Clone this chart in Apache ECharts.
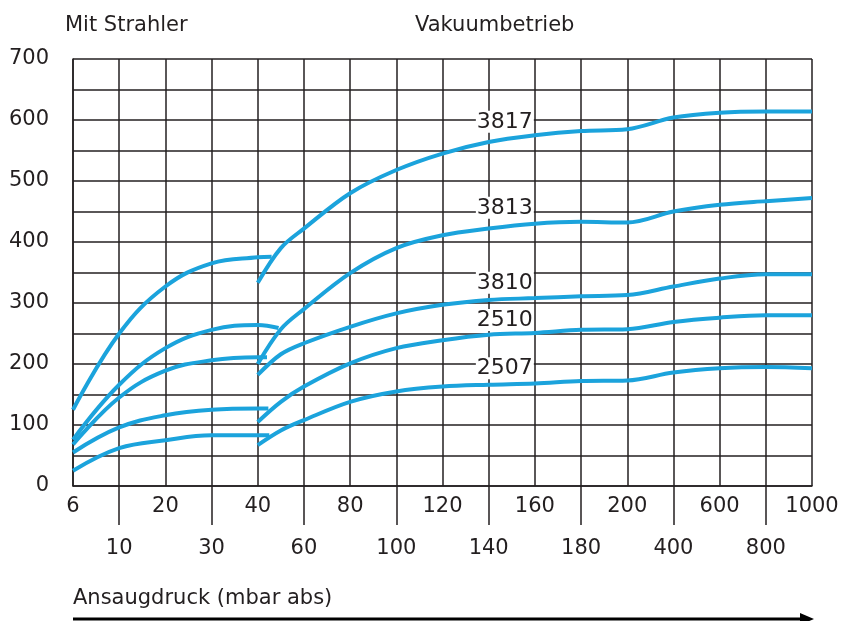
<!DOCTYPE html>
<html>
<head>
<meta charset="utf-8">
<script src="https://cdn.jsdelivr.net/npm/echarts@6/dist/echarts.min.js"></script>
<style>html,body{margin:0;padding:0;background:#fff}#c{width:842px;height:621px}</style>
</head>
<body>
<div id="c"></div>
<script>
// ---- data ----
const tickPressures = [6,10,20,30,40,60,80,100,120,140,160,180,200,400,600,800,1000];
const tickLabels = ['6','10','20','30','40','60','80','100','120','140','160','180','200','400','600','800','1000'];
const yTicks = [0,100,200,300,400,500,600,700];
const seriesNames = ['3817','3813','3810','2510','2507'];

// "Mit Strahler" segments: [pressure mbar, value]
const strahler3817 = [[6,125],[10,250],[20,327],[30,365],[40,375],[46,376]];
const strahler3813 = [[6,76],[10,166],[20,226],[30,256],[40,264],[49,259]];
const strahler3810 = [[6,68],[10,145],[20,189],[30,206],[40,211],[44,211]];
const strahler2510 = [[6,55],[10,96],[20,116],[30,125],[40,127],[44.6,127]];
const strahler2507 = [[6,25],[10,62],[20,75],[30,83],[40,83],[45,83]];

// "Vakuumbetrieb" segments
const vakuum3817 = [[40,333],[50,390],[60,422],[80,480],[100,518],[120,545],[140,564],[160,575],[180,582],[200,585],[400,604],[600,612],[800,614],[1000,614]];
const vakuum3813 = [[40,200],[50,257],[60,290],[80,349],[100,390],[120,411],[140,422],[160,430],[180,433],[200,432],[400,450],[600,461],[800,467],[1000,472]];
const vakuum3810 = [[40,182],[50,216],[60,234],[80,261],[100,283],[120,297],[140,305],[160,308],[180,311],[200,313],[400,327],[600,340],[800,347],[1000,347]];
const vakuum2510 = [[40,105],[50,138],[60,163],[80,201],[100,226],[120,239],[140,248],[160,251],[180,256],[200,257],[400,269],[600,276],[800,280],[1000,280]];
const vakuum2507 = [[40,67],[50,91],[60,108],[80,138],[100,155],[120,163],[140,166],[160,168],[180,172],[200,173],[400,186],[600,193],[800,195],[1000,193]];

// curve label anchors (pressure, value)
const labelPressure = 147;
const labelValues = [597,456,333,272,193];

// ---- helpers ----
function toIdx(p){
  for(let i=0;i<tickPressures.length-1;i++){
    if(p<=tickPressures[i+1]) return i+(p-tickPressures[i])/(tickPressures[i+1]-tickPressures[i]);
  }
  return tickPressures.length-1;
}
const conv = arr => arr.map(d=>[toIdx(d[0]),d[1]]);

const FONT = 'DejaVu Sans';
const TXT = '#231f20';
const LINE = '#1ba3dc';
const GRIDC = '#231f20';

const strahler = [strahler3817,strahler3813,strahler3810,strahler2510,strahler2507];
const vakuum = [vakuum3817,vakuum3813,vakuum3810,vakuum2510,vakuum2507];

const series = [];
seriesNames.forEach((n,i)=>{
  series.push({name:n+' Strahler',type:'line',xAxisIndex:0,yAxisIndex:0,data:conv(strahler[i]),
    smooth:0.4,symbol:'none',lineStyle:{color:LINE,width:4},z:3});
  series.push({name:n,type:'line',xAxisIndex:0,yAxisIndex:0,data:conv(vakuum[i]),
    smooth:0.35,symbol:'none',lineStyle:{color:LINE,width:4},z:3,
    markPoint:{symbol:'circle',symbolSize:0,silent:true,
      data:[{coord:[toIdx(labelPressure),labelValues[i]],value:n}],
      label:{show:true,position:'inside',formatter:n,color:TXT,fontFamily:FONT,fontSize:22,
        backgroundColor:'#fff',padding:[0,1]}}});
});

const chart = echarts.init(document.getElementById('c'),null,{renderer:'canvas'});
chart.setOption({
  animation:false,
  backgroundColor:'#fff',
  title:[
    {text:'Mit Strahler',left:60,top:10,textStyle:{fontFamily:FONT,fontSize:21,fontWeight:'normal',color:TXT}},
    {text:'Vakuumbetrieb',left:410,top:10,textStyle:{fontFamily:FONT,fontSize:21,fontWeight:'normal',color:TXT}}
  ],
  grid:{left:73,right:30,top:59,bottom:135,containLabel:false},
  xAxis:[
    {type:'value',min:0,max:tickPressures.length-1,interval:1,
     axisLine:{show:true,onZero:false,lineStyle:{color:GRIDC,width:1.5}},
     axisTick:{show:false},axisLabel:{show:false},
     splitLine:{show:true,lineStyle:{color:GRIDC,width:1.5}}},
    {type:'category',data:tickLabels,boundaryGap:false,position:'bottom',offset:0,
     axisLine:{show:false},
     axisTick:{show:true,alignWithLabel:true,length:39,interval:(i)=>i%2===1,lineStyle:{color:GRIDC,width:1.5}},
     axisLabel:{show:true,interval:(i)=>i%2===0,margin:10,fontFamily:FONT,fontSize:21,color:TXT},
     splitLine:{show:false}},
    {type:'category',data:tickLabels,boundaryGap:false,position:'bottom',offset:0,
     axisLine:{show:false},axisTick:{show:false},
     axisLabel:{show:true,interval:(i)=>i%2===1,margin:52,fontFamily:FONT,fontSize:21,color:TXT},
     splitLine:{show:false}}
  ],
  yAxis:{type:'value',min:0,max:700,interval:50,
    axisLine:{show:true,lineStyle:{color:GRIDC,width:1.5}},
    axisTick:{show:false},
    axisLabel:{margin:24,fontFamily:FONT,fontSize:21,color:TXT,
      formatter:v=>yTicks.indexOf(v)>=0?String(v):''},
    splitLine:{show:true,lineStyle:{color:GRIDC,width:1.5}}},
  graphic:[
    {type:'text',left:73,top:588,style:{text:'Ansaugdruck (mbar abs)',font:'21px "DejaVu Sans"',fill:TXT}},
    {type:'line',shape:{x1:73,y1:619,x2:804,y2:619},style:{stroke:'#000',lineWidth:3}},
    {type:'polygon',shape:{points:[[800,613],[814,619],[800,625]]},style:{fill:'#000'}}
  ],
  series:series
});
</script>
</body>
</html>
